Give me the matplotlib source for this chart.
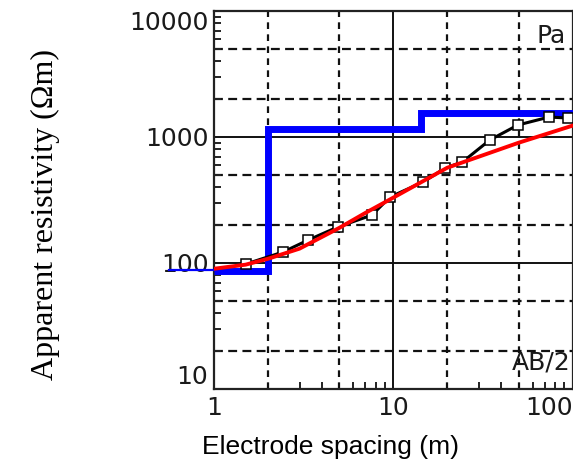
import matplotlib
matplotlib.use("Agg")
import matplotlib.pyplot as plt
from matplotlib.ticker import FixedLocator, NullFormatter

# ---- data ----
obs_x = [1.5, 2.42, 3.35, 4.9, 7.6, 9.6, 14.7, 19.5, 24.3, 34.6, 49.6, 74, 94]
obs_y = [98, 122, 152, 193, 240, 334, 440, 567, 633, 947, 1245, 1440, 1415]

calc_x = [1, 1.5, 2, 3, 5, 7, 10, 20, 50, 100]
calc_y = [90, 97, 108, 130, 190, 250, 330, 570, 900, 1230]

model_x = [1, 2, 2, 14.3, 14.3, 100]
model_y = [87, 87, 1160, 1160, 1540, 1540]
model_ext_x = [0.56, 1]
model_ext_y = [88, 88]

xticks = [1, 10, 100]
xtick_labels = ["1", "10", "100"]
yticks = [10, 100, 1000, 10000]
ytick_labels = ["10", "100", "1000", "10000"]

W, H = 573, 461
fig = plt.figure(figsize=(W / 100, H / 100), dpi=100)
l, r, t, b = 214, 572.5, 11, 389
ax = fig.add_axes([l / W, 1 - b / H, (r - l) / W, (b - t) / H])
ax.set_xscale("log")
ax.set_yscale("log")
ax.set_xlim(1, 100)
ax.set_ylim(10, 10000)

# grid
for gx in [2, 5, 20, 50]:
    ax.axvline(gx, color="#111111", lw=1.6, ls=(0, (3.0, 2.4)), zorder=1)
for gy in [20, 50, 200, 500, 2000, 5000]:
    ax.axhline(gy, color="#111111", lw=1.6, ls=(0, (4.0, 2.4)), zorder=1)
ax.axvline(10, color="#111111", lw=1.4, zorder=1)
for gy in [100, 1000]:
    ax.axhline(gy, color="#111111", lw=1.4, zorder=1)

# model (blue)
ax.plot(model_x, model_y, color="#0000ff", lw=5, zorder=3,
        solid_joinstyle="miter", solid_capstyle="butt")
ax.plot(model_ext_x, model_ext_y, color="#0000ff", lw=1.6, zorder=3, clip_on=False)

# observed (black with open squares)
ax.plot(obs_x, obs_y, color="black", lw=2.2, marker="s", ms=7.5,
        mfc="white", mec="black", mew=1.1, zorder=4)

# calculated (red)
ax.plot(calc_x, calc_y, color="#ff0000", lw=2.8, zorder=5)

for s in ax.spines.values():
    s.set_color("#222222")
    s.set_linewidth(1.6)

ax.xaxis.set_major_locator(FixedLocator(xticks))
ax.set_xticklabels(xtick_labels)
ax.yaxis.set_major_locator(FixedLocator(yticks))
ax.set_yticklabels(ytick_labels)
ax.xaxis.set_minor_locator(FixedLocator([3, 4, 6, 7, 8, 9, 30, 40, 60, 70, 80, 90]))
ax.yaxis.set_minor_locator(FixedLocator([v * d for d in [10, 100, 1000] for v in range(2, 10)]))
ax.xaxis.set_minor_formatter(NullFormatter())
ax.yaxis.set_minor_formatter(NullFormatter())
ax.tick_params(which="major", length=0, pad=4, labelsize=18, labelcolor="#1a1a1a")
ax.tick_params(which="minor", direction="in", length=5, width=1.4, color="#222222")
ax.tick_params(axis="x", which="major", pad=5)

for lab in ax.get_xticklabels() + ax.get_yticklabels():
    lab.set_fontfamily("DejaVu Sans")

yt = ax.yaxis.get_major_ticks()
yt[0].label1.set_verticalalignment("bottom")
yt[-1].label1.set_verticalalignment("top")
xt = ax.xaxis.get_major_ticks()
xt[-1].label1.set_horizontalalignment("right")

# in-plot labels
ax.text(566 / W, 1 - 43 / H, "Pa", transform=fig.transFigure, ha="right",
        va="baseline", fontsize=18, family="DejaVu Sans", color="#1a1a1a")
ax.text(571 / W, 1 - 370 / H, "AB/2", transform=fig.transFigure, ha="right",
        va="baseline", fontsize=18, family="DejaVu Sans", color="#1a1a1a")

fig.text(330 / W, 1 - 447 / H, "Electrode spacing (m)", ha="center", va="center",
         fontsize=19, family="Liberation Sans")
fig.text(45 / W, 1 - 214 / H, "Apparent resistivity (Ωm)", ha="center", va="center",
         rotation=90, fontsize=23, family="Liberation Serif")

fig.savefig("out.png", dpi=100)
